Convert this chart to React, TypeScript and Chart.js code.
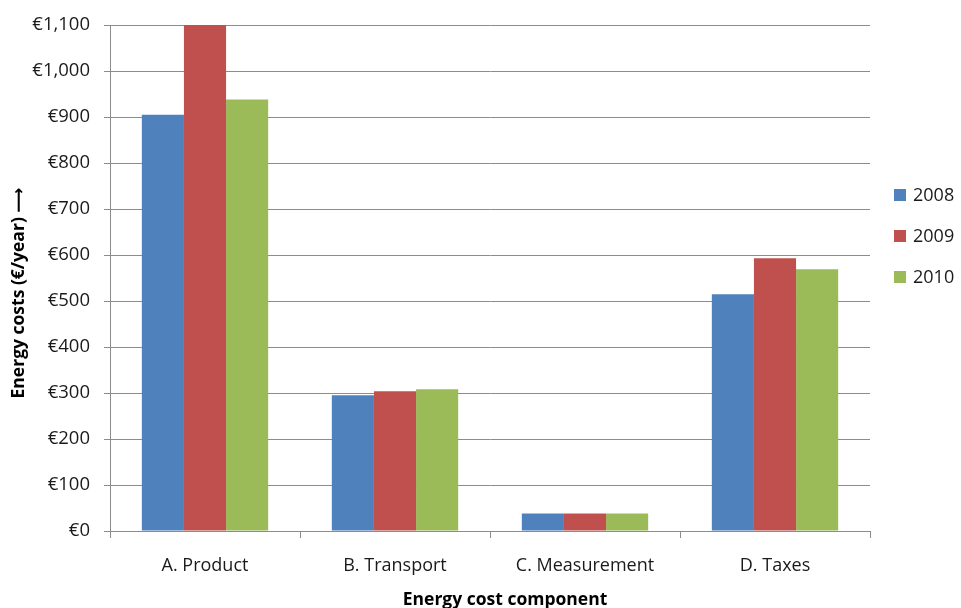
import React, { useEffect, useRef } from "react";
import { Chart, registerables } from "chart.js";

Chart.register(...registerables);

const categories = ["A. Product", "B. Transport", "C. Measurement", "D. Taxes"];
const seriesNames = ["2008", "2009", "2010"];
const values2008 = [905, 295, 38, 515];
const values2009 = [1100, 304, 38, 593];
const values2010 = [938, 308, 38, 569];
const seriesColors = ["#4F81BD", "#C0504D", "#9BBB59"];

const yTitle = "Energy costs (€/year) ⟶";
const xTitle = "Energy cost component";

const FONT = "'Open Sans', 'DejaVu Sans', sans-serif";
const GRID = "#8C8C8C";
const TEXT = "#1A1A1A";

// Draws the right-hand legend and both axis titles.
const decorations = {
  id: "decorations",
  afterDraw(chart: any) {
    const ctx = chart.ctx as CanvasRenderingContext2D;
    const area = chart.chartArea;
    ctx.save();

    // legend
    ctx.font = `18px ${FONT}`;
    ctx.textBaseline = "middle";
    ctx.textAlign = "left";
    chart.data.datasets.forEach((ds: any, i: number) => {
      const cy = 195 + i * 41;
      ctx.fillStyle = ds.backgroundColor;
      ctx.fillRect(area.right + 24, cy - 6, 12, 12);
      ctx.fillStyle = TEXT;
      ctx.fillText(ds.label, area.right + 43, cy + 1);
    });

    // x-axis title
    ctx.font = `bold 17.5px ${FONT}`;
    ctx.textAlign = "center";
    ctx.textBaseline = "middle";
    ctx.fillStyle = "#000";
    ctx.fillText(xTitle, (area.left + area.right) / 2 + 15, 600);

    // y-axis title
    ctx.translate(19, 293);
    ctx.rotate(-Math.PI / 2);
    ctx.fillText(yTitle, 0, 0);

    ctx.restore();
  },
};

export default function App() {
  const canvasRef = useRef<HTMLCanvasElement | null>(null);

  useEffect(() => {
    if (!canvasRef.current) return;
    const series = [values2008, values2009, values2010];
    const chart = new Chart(canvasRef.current, {
      type: "bar",
      data: {
        labels: categories,
        datasets: seriesNames.map((name, i) => ({
          label: name,
          data: series[i],
          backgroundColor: seriesColors[i],
          borderWidth: 0,
          categoryPercentage: 0.665,
          barPercentage: 1.0,
        })),
      },
      options: {
        responsive: false,
        animation: false,
        devicePixelRatio: 1,
        layout: { padding: { top: 24, right: 91, left: 0, bottom: 0 } },
        plugins: {
          legend: { display: false },
          tooltip: { enabled: false },
        },
        scales: {
          x: {
            afterFit(scale: any) {
              scale.height = 77;
            },
            grid: {
              offset: true,
              drawOnChartArea: false,
              drawTicks: true,
              tickLength: 7,
              color: GRID,
            },
            border: { display: true, color: GRID, width: 1 },
            ticks: {
              padding: 17,
              color: TEXT,
              font: { family: FONT, size: 18 },
            },
          },
          y: {
            min: 0,
            max: 1100,
            afterFit(scale: any) {
              scale.width = 110;
            },
            grid: {
              color: GRID,
              lineWidth: 1,
              drawTicks: true,
              tickLength: 6,
            },
            border: { display: true, color: GRID, width: 1 },
            ticks: {
              stepSize: 100,
              padding: 14,
              color: TEXT,
              font: { family: FONT, size: 18.5 },
              callback: (v: any) => "€" + Number(v).toLocaleString("en-US"),
            },
          },
        },
      },
      plugins: [decorations],
    });
    return () => chart.destroy();
  }, []);

  return (
    <div style={{ position: "absolute", left: 0, top: 0, width: 961, height: 608, background: "#fff" }}>
      <canvas ref={canvasRef} width={961} height={608} style={{ display: "block" }} />
    </div>
  );
}
